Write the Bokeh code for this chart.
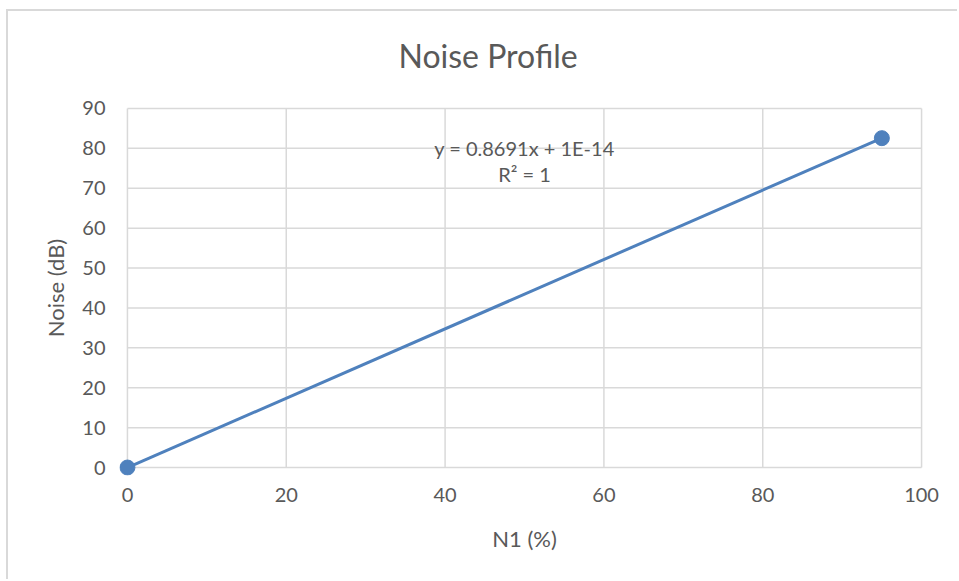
from bokeh.plotting import figure
from bokeh.models import FixedTicker, Range1d
from bokeh.core.properties import value
from bokeh.embed import file_html
from bokeh.resources import INLINE

# Data
n1_percent = [0, 95]
noise_db = [0, 82.56]
x_ticks = [0, 20, 40, 60, 80, 100]
y_ticks = [0, 10, 20, 30, 40, 50, 60, 70, 80, 90]
equation_lines = ["y = 0.8691x + 1E-14", "R² = 1"]

FONT = "Lato"
GRAY = "#595959"
GRID = "#d9d9d9"
BLUE = "#4f81bd"

xmin, xmax = min(x_ticks), max(x_ticks)
ymin, ymax = min(y_ticks), max(y_ticks)

p = figure(width=951, height=570, output_backend="svg", toolbar_location=None,
           x_range=Range1d(xmin - 1, xmax + 1), y_range=Range1d(ymin - 2, ymax + 2),
           min_border_left=111, min_border_right=30, min_border_top=89, min_border_bottom=106)
p.styles = {"margin-left": "6px", "margin-top": "9px",
            "border-left": "2px solid #d9d9d9", "border-top": "2px solid #d9d9d9"}

p.title.text = "Noise Profile"
p.title.text_font = FONT
p.title.text_font_size = "32px"
p.title.text_font_style = "normal"
p.title.text_color = GRAY
p.title.align = "left"
p.title.vertical_align = "top"
p.title.offset = 279
p.title.standoff = 47

p.outline_line_color = None
p.grid.visible = False

# Gridlines built from the tick lists
p.segment(x0=[xmin] * len(y_ticks), x1=[xmax] * len(y_ticks), y0=y_ticks, y1=y_ticks,
          line_color=GRID, line_width=1.5)
p.segment(x0=x_ticks, x1=x_ticks, y0=[ymin] * len(x_ticks), y1=[ymax] * len(x_ticks),
          line_color=GRID, line_width=1.5)

p.xaxis.ticker = FixedTicker(ticks=x_ticks)
p.yaxis.ticker = FixedTicker(ticks=y_ticks)

for ax in (p.xaxis[0], p.yaxis[0]):
    ax.major_label_text_font = FONT
    ax.major_label_text_font_size = "20px"
    ax.major_label_text_color = GRAY
    ax.axis_label_text_font = FONT
    ax.axis_label_text_font_size = "22px"
    ax.axis_label_text_color = GRAY
    ax.axis_label_text_font_style = "normal"
    ax.major_tick_line_color = None
    ax.minor_tick_line_color = None
    ax.major_tick_out = 0
    ax.major_tick_in = 0
    ax.minor_tick_out = 0
    ax.axis_line_color = None

p.xaxis.major_label_standoff = 12
p.yaxis.major_label_standoff = 14
p.xaxis.axis_label = "N1 (%)"
p.yaxis.axis_label = "Noise (dB)"
p.xaxis.axis_label_standoff = 20
p.yaxis.axis_label_standoff = 10

p.line(n1_percent, noise_db, line_color=BLUE, line_width=3)
p.scatter(n1_percent, noise_db, size=15, fill_color=BLUE, line_color=BLUE)

p.text(x=[50.0, 50.0], y=[80.2, 73.7], text=equation_lines,
       text_font=value(FONT), text_font_size="20px", text_color=GRAY,
       text_align="center", text_baseline="middle")

open("out.html", "w").write(file_html(p, INLINE))
